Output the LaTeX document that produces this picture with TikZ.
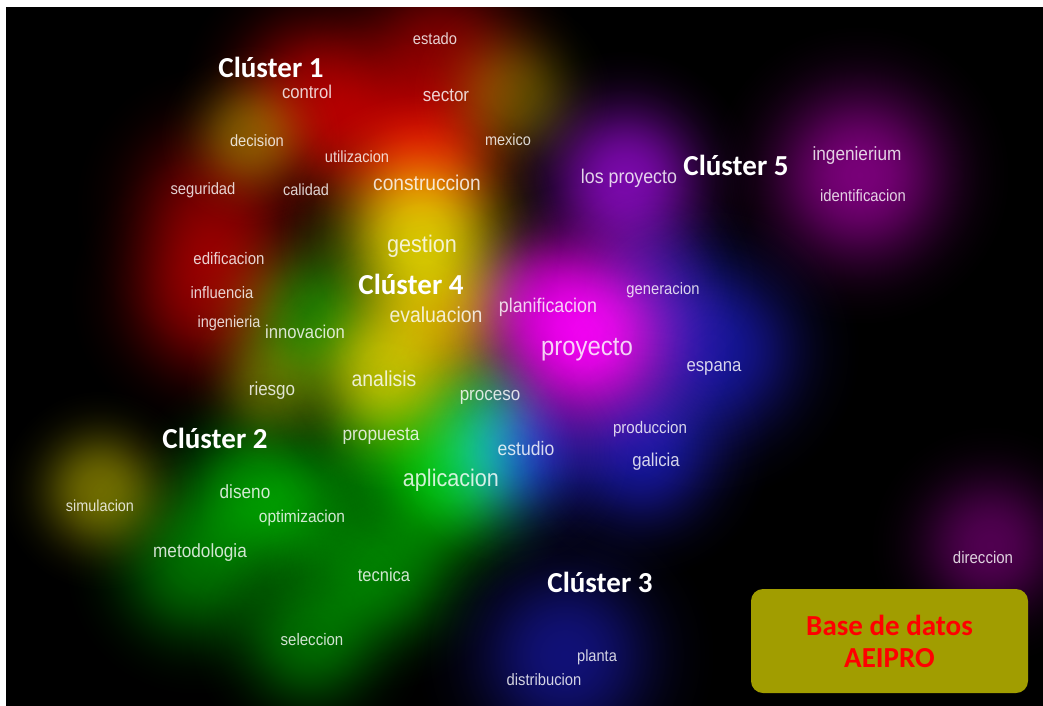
\documentclass[tikz,border=0pt]{standalone}
\usepackage{fontspec}
\setmainfont{Liberation Sans}
\newfontfamily\termfont[FakeStretch=0.9]{Liberation Sans}
\newfontfamily\calibri{Carlito}
\definecolor{cR}{RGB}{235,0,0}
\definecolor{cG}{RGB}{0,205,0}
\definecolor{cB}{RGB}{30,30,215}
\definecolor{cY}{RGB}{220,210,0}
\definecolor{cO}{RGB}{175,190,0}
\definecolor{cM}{RGB}{235,0,235}
\definecolor{cP}{RGB}{150,10,210}
\definecolor{cV}{RGB}{160,0,160}
\definecolor{boxfill}{RGB}{161,157,0}
\colorlet{blobc}{red}
\pgfdeclareradialshading[blobc]{blob}{\pgfpoint{0bp}{0bp}}{%
color(0bp)=(blobc); color(2.5bp)=(blobc!98!black); color(5bp)=(blobc!92!black);
color(7.5bp)=(blobc!80!black); color(10bp)=(blobc!64!black); color(12.5bp)=(blobc!46!black);
color(15bp)=(blobc!30!black); color(17.5bp)=(blobc!17!black); color(20bp)=(blobc!8!black);
color(22.5bp)=(blobc!3!black); color(25bp)=(black); color(50bp)=(black)}
\newcommand\blob[4]{\colorlet{blobc}{#4}\shade[shading=blob] (#1,#2) circle (#3pt);}
\tikzset{
  term/.style={font=\termfont\fontsize{#1}{#1}\selectfont, text=white, text opacity=0.82, inner sep=0pt},
  clus/.style={font=\calibri\bfseries\fontsize{29}{32}\selectfont, text=white, inner sep=0pt},
  dbbox/.style={rounded corners=12pt, fill=boxfill, minimum width=277pt, minimum height=104pt,
    align=center, text=red, font=\calibri\bfseries\fontsize{29}{32}\selectfont}
}
\begin{document}
\begin{tikzpicture}[x=1pt,y=-1pt]
\useasboundingbox (0,0) rectangle (1043,706);
\fill[black] (0,0) rectangle (1043,706);
\begin{scope}
\clip (6,7) rectangle (1043,706);
\begin{scope}[blend group=screen]
% red (cluster 1)
\blob{315}{95}{135}{cR!62!black}
\blob{440}{60}{140}{cR!55!black}
\blob{425}{160}{120}{cR!85!black}
\blob{215}{205}{140}{cR!45!black}
\blob{210}{295}{140}{cR!55!black}
\blob{355}{135}{110}{cR!40!black}
\blob{445}{320}{100}{cR!40!black}
% yellow (cluster 4)
\blob{250}{135}{90}{cO!45!black}
\blob{512}{95}{100}{cY!35!black}
\blob{420}{235}{140}{cY!90!black}
\blob{435}{310}{110}{cY!55!black}
\blob{385}{370}{120}{cY!80!black}
\blob{270}{385}{85}{cY!35!black}
\blob{100}{490}{100}{cY!50!black}
% green (cluster 2)
\blob{305}{320}{120}{cG!55!black}
\blob{450}{475}{130}{cG!90!black}
\blob{470}{405}{100}{cG!55!black}
\blob{375}{440}{100}{cG!45!black}
\blob{255}{490}{125}{cG!60!black}
\blob{310}{515}{110}{cG!40!black}
\blob{195}{565}{130}{cG!50!black}
\blob{385}{570}{120}{cG!55!black}
\blob{310}{635}{120}{cG!50!black}
% blue (cluster 3)
\blob{515}{450}{120}{cB!85!black}
\blob{710}{350}{150}{cB!70!black}
\blob{640}{450}{130}{cB!70!black}
\blob{655}{280}{110}{cB!45!black}
\blob{565}{655}{150}{cB!55!black}
% magenta / purple (cluster 5)
\blob{585}{335}{150}{cM}
\blob{540}{300}{100}{cM!50!black}
\blob{625}{180}{130}{cP!80!black}
\blob{860}{175}{150}{cV!75!black}
\blob{990}{545}{120}{cV!50!black}
\end{scope}
\end{scope}
% white margins
\fill[white] (0,0) rectangle (1043,7);
\fill[white] (0,0) rectangle (6,706);
% terms
\node[term=16.3] (estado) at (435,39) {estado};
\node[term=18.5] (control) at (307,92) {control};
\node[term=18.9] (sector) at (446,95) {sector};
\node[term=16.3] (decision) at (257,141) {decision};
\node[term=16.2] (utilizacion) at (357,157) {utilizacion};
\node[term=16.1] (mexico) at (508,140) {mexico};
\node[term=21.3] (construccion) at (427,183) {construccion};
\node[term=16.4] (seguridad) at (203,190) {seguridad};
\node[term=16.1] (calidad) at (306,190) {calidad};
\node[term=24] (gestion) at (422,246) {gestion};
\node[term=16.7] (edificacion) at (229,259) {edificacion};
\node[term=16.5] (influencia) at (222,293) {influencia};
\node[term=16.1] (ingenieria) at (229,323) {ingenieria};
\node[term=18.5] (innovacion) at (305,332) {innovacion};
\node[term=21.6] (evaluacion) at (436,315) {evaluacion};
\node[term=19.8] (planificacion) at (548,307) {planificacion};
\node[term=16.4] (generacion) at (663,290) {generacion};
\node[term=26.6] (proyecto) at (587,350) {proyecto};
\node[term=18.6] (espana) at (714,368) {espana};
\node[term=19.8] (losproyecto) at (629,178) {los proyecto};
\node[term=19.1] (ingenierium) at (857,156) {ingenierium};
\node[term=16.5] (identificacion) at (863,196) {identificacion};
\node[term=18.9] (riesgo) at (272,391) {riesgo};
\node[term=21.6] (analisis) at (384,379) {analisis};
\node[term=18.9] (proceso) at (490,397) {proceso};
\node[term=19.2] (propuesta) at (381,436) {propuesta};
\node[term=19.5] (estudio) at (526,449) {estudio};
\node[term=16.8] (produccion) at (650,429) {produccion};
\node[term=18.6] (galicia) at (656,462) {galicia};
\node[term=24] (aplicacion) at (451,480) {aplicacion};
\node[term=16] (simulacion) at (100,506) {simulacion};
\node[term=19.1] (diseno) at (245,492) {diseno};
\node[term=17.2] (optimizacion) at (302,518) {optimizacion};
\node[term=19.1] (metodologia) at (200,553) {metodologia};
\node[term=18.3] (tecnica) at (384,575) {tecnica};
\node[term=16.7] (seleccion) at (312,640) {seleccion};
\node[term=16.7] (direccion) at (983,558) {direccion};
\node[term=16.2] (planta) at (597,657) {planta};
\node[term=16.4] (distribucion) at (544,680) {distribucion};
% cluster labels
\node[clus] (c1) at (271,67) {Clúster 1};
\node[clus] (c2) at (215,438) {Clúster 2};
\node[clus] (c3) at (600,582) {Clúster 3};
\node[clus] (c4) at (411,284) {Clúster 4};
\node[clus] (c5) at (736,165) {Clúster 5};
% database box
\node[dbbox] (db) at (889.5,641) {Base de datos\\AEIPRO};
\end{tikzpicture}
\end{document}
